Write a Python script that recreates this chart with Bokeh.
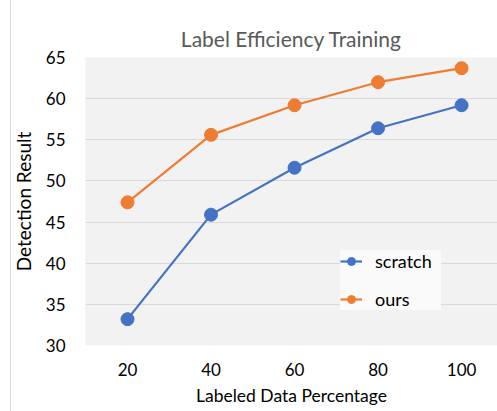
from bokeh.plotting import figure
from bokeh.models import Legend, LegendItem, FixedTicker, Range1d
from bokeh.embed import file_html
from bokeh.resources import INLINE

x_vals = [20, 40, 60, 80, 100]
scratch = [33.2, 45.9, 51.6, 56.4, 59.2]
ours = [47.4, 55.6, 59.2, 62.0, 63.7]
x_ticks = [20, 40, 60, 80, 100]
y_ticks = [30, 35, 40, 45, 50, 55, 60, 65]

FONT = "Lato"
BLUE = "#4472C4"
ORANGE = "#ED7D31"

p = figure(width=497, height=411, output_backend="svg", toolbar_location=None,
           x_range=Range1d(9.94, 108.6), y_range=Range1d(30, 65),
           min_border_left=85, min_border_right=0, min_border_top=57, min_border_bottom=66,
           background_fill_color="#f2f2f2", border_fill_color=None,
           title="Label Efficiency Training")
p.outline_line_color = None
p.styles = {"background": "linear-gradient(to right, white 10px, #dcdcdc 10px, #dcdcdc 11px, white 11px)"}

p.title.text_font = FONT
p.title.text_font_size = "21px"
p.title.text_font_style = "normal"
p.title.text_color = "#595959"
p.title.align = "center"
p.title.standoff = 14
p.title.offset = -3

for ax in (p.xaxis[0], p.yaxis[0]):
    ax.axis_line_color = None
    ax.major_tick_line_color = None
    ax.minor_tick_line_color = None
    ax.major_label_text_font = FONT
    ax.major_label_text_font_size = "17px"
    ax.major_label_text_color = "black"
    ax.axis_label_text_font = FONT
    ax.axis_label_text_font_style = "normal"
    ax.axis_label_text_color = "black"

p.xaxis.axis_label_text_font_size = "17.5px"
p.yaxis.axis_label_text_font_size = "19px"
p.xaxis.ticker = FixedTicker(ticks=x_ticks)
p.yaxis.ticker = FixedTicker(ticks=y_ticks)
p.xaxis.axis_label = "Labeled Data Percentage"
p.yaxis.axis_label = "Detection Result"
p.xaxis.major_label_standoff = 11
p.yaxis.major_label_standoff = 14
p.xaxis.axis_label_standoff = 6
p.yaxis.axis_label_standoff = 8

p.xgrid.grid_line_color = None
p.ygrid.grid_line_color = "#d9d9d9"
p.ygrid.grid_line_width = 1

r1l = p.line(x_vals, scratch, line_color=BLUE, line_width=2.2)
r1c = p.scatter(x_vals, scratch, size=13, fill_color=BLUE, line_color=BLUE)
r2l = p.line(x_vals, ours, line_color=ORANGE, line_width=2.2)
r2c = p.scatter(x_vals, ours, size=13, fill_color=ORANGE, line_color=ORANGE)

legend = Legend(items=[LegendItem(label="scratch", renderers=[r1l, r1c]),
                       LegendItem(label="ours", renderers=[r2l, r2c])],
                location=(255, 35))
legend.label_text_font = FONT
legend.label_text_font_size = "18px"
legend.label_text_color = "black"
legend.border_line_color = None
legend.background_fill_color = "#fafafa"
legend.background_fill_alpha = 1
legend.glyph_width = 22
legend.glyph_height = 20
legend.label_height = 20
legend.label_width = 66
legend.label_standoff = 13
legend.spacing = 16
legend.padding = 12
legend.margin = 0
p.add_layout(legend, "center")

open("out.html", "w").write(file_html(p, INLINE))
